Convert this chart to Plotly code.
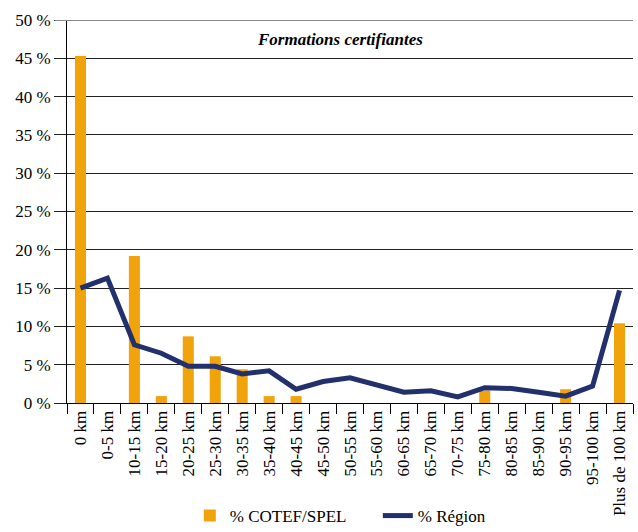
import plotly.graph_objects as go

categories = ["0 km", "0-5 km", "10-15 km", "15-20 km", "20-25 km", "25-30 km", "30-35 km",
              "35-40 km", "40-45 km", "45-50 km", "50-55 km", "55-60 km", "60-65 km", "65-70 km",
              "70-75 km", "75-80 km", "80-85 km", "85-90 km", "90-95 km", "95-100 km", "Plus de 100 km"]
cotef = [45.3, 0, 19.2, 0.9, 8.7, 6.1, 4.4, 0.9, 0.9, 0, 0, 0, 0, 0, 0, 1.6, 0, 0, 1.8, 0, 10.4]
region = [15.0, 16.3, 7.6, 6.5, 4.8, 4.8, 3.8, 4.2, 1.8, 2.8, 3.3, 2.3, 1.4, 1.6, 0.8, 2.0, 1.9, 1.4, 0.9, 2.2, 14.7]
yticks = [0, 5, 10, 15, 20, 25, 30, 35, 40, 45, 50]
ytick_labels = ["0 %", "5 %", "10 %", "15 %", "20 %", "25 %", "30 %", "35 %", "40 %", "45 %", "50 %"]

FONT = "Liberation Serif, Times New Roman, serif"
ORANGE = "#F0A30A"
NAVY = "#22306E"

fig = go.Figure()
fig.add_trace(go.Bar(x=categories, y=cotef, name="% COTEF/SPEL", marker_color=ORANGE,
                     marker_line_width=0))
fig.add_trace(go.Scatter(x=categories, y=region, name="% Région", mode="lines",
                         line=dict(color=NAVY, width=5)))

fig.update_layout(
    template="none",
    width=638, height=532,
    margin=dict(l=67, r=5, t=20, b=129),
    paper_bgcolor="white", plot_bgcolor="white",
    font=dict(family=FONT, size=17, color="black"),
    bargap=0.59,
    showlegend=True,
    legend=dict(orientation="h", x=0.217, xanchor="left", xref="paper",
                y=0.03, yref="container", yanchor="middle",
                font=dict(family=FONT, size=17, color="black"), itemwidth=30,
                entrywidth=143, traceorder="normal"),
    annotations=[dict(text="<b><i>Formations certifiantes</i></b>", x=0.482, xref="paper",
                      y=0.95, yref="paper", yanchor="middle", showarrow=False,
                      font=dict(family=FONT, size=17, color="black"))],
)
fig.update_xaxes(type="category", showline=True, linecolor="black", linewidth=1,
                 ticks="outside", tickson="boundaries", ticklen=10, tickcolor="black",
                 tickangle=-90, showgrid=False, automargin=False,
                 tickfont=dict(family=FONT, size=17, color="black"))
fig.update_yaxes(range=[0, 50], tickmode="array", tickvals=yticks, ticktext=ytick_labels,
                 showline=True, linecolor="black", linewidth=1, ticks="outside", ticklen=12,
                 tickcolor="#222", showgrid=True, gridcolor="#222", gridwidth=1,
                 zeroline=False, automargin=False,
                 tickfont=dict(family=FONT, size=17, color="black"))
fig.add_shape(type="line", xref="paper", yref="y", x0=-0.021, x1=1, y0=50, y1=50,
              line=dict(color="#888888", width=2))
fig.write_html("out.html", config={"displayModeBar": False},
               post_script="document.body.style.margin='0';document.body.style.overflow='hidden';")
